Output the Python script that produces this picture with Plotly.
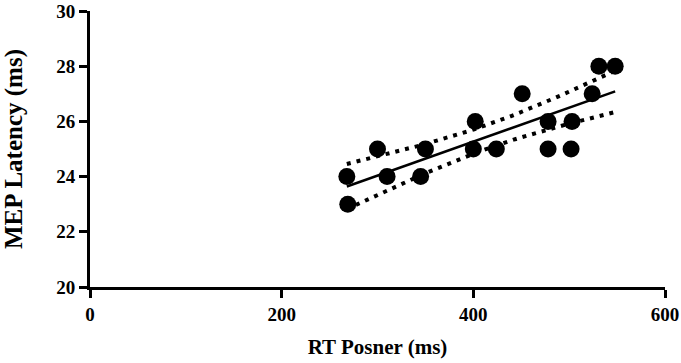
import numpy as np
import plotly.graph_objects as go

rt_posner = [268, 269, 300, 310, 345, 350, 402, 400, 424, 451, 478, 478, 502, 503, 524, 531, 548]
mep_latency = [24, 23, 25, 24, 24, 25, 26, 25, 25, 27, 26, 25, 25, 26, 27, 28, 28]
x_ticks = [0, 200, 400, 600]
y_ticks = [20, 22, 24, 26, 28, 30]
t_crit = 2.131  # t(0.975, df=15)

x = np.array(rt_posner, dtype=float)
y = np.array(mep_latency, dtype=float)
n = len(x)
slope, intercept = np.polyfit(x, y, 1)
xs = np.linspace(x.min(), x.max(), 60)
fit = intercept + slope * xs
resid = y - (intercept + slope * x)
s = np.sqrt(np.sum(resid ** 2) / (n - 2))
sxx = np.sum((x - x.mean()) ** 2)
half = t_crit * s * np.sqrt(1.0 / n + (xs - x.mean()) ** 2 / sxx)

font = "Liberation Serif, Times New Roman, serif"
fig = go.Figure()
fig.add_trace(go.Scatter(x=xs, y=fit + half, mode="lines",
                         line=dict(color="black", width=4, dash="4px,6px"), hoverinfo="skip"))
fig.add_trace(go.Scatter(x=xs, y=fit - half, mode="lines",
                         line=dict(color="black", width=4, dash="4px,6px"), hoverinfo="skip"))
fig.add_trace(go.Scatter(x=xs, y=fit, mode="lines",
                         line=dict(color="black", width=2.5), hoverinfo="skip"))
fig.add_trace(go.Scatter(x=rt_posner, y=mep_latency, mode="markers",
                         marker=dict(color="black", size=17)))

axis_common = dict(showline=True, linecolor="black", linewidth=3, ticks="outside",
                   ticklen=8, tickwidth=3, tickcolor="black", showgrid=False, zeroline=False,
                   automargin=False,
                   tickfont=dict(family=font, size=19, color="black", weight="bold"))
fig.update_layout(
    width=681, height=363, showlegend=False,
    plot_bgcolor="white", paper_bgcolor="white",
    margin=dict(l=90, r=16, t=11, b=76),
    xaxis=dict(range=[0, 600], tickvals=x_ticks, **axis_common,
               title=dict(text="RT Posner (ms)", standoff=16,
                          font=dict(family=font, size=21, color="black", weight="bold"))),
    yaxis=dict(range=[20, 30], tickvals=y_ticks, **axis_common,
               title=dict(text="MEP Latency (ms)", standoff=30,
                          font=dict(family=font, size=25, color="black", weight="bold"))),
)
fig.write_html("out.html", config={"displayModeBar": False},
               post_script="document.body.style.margin='0';")
